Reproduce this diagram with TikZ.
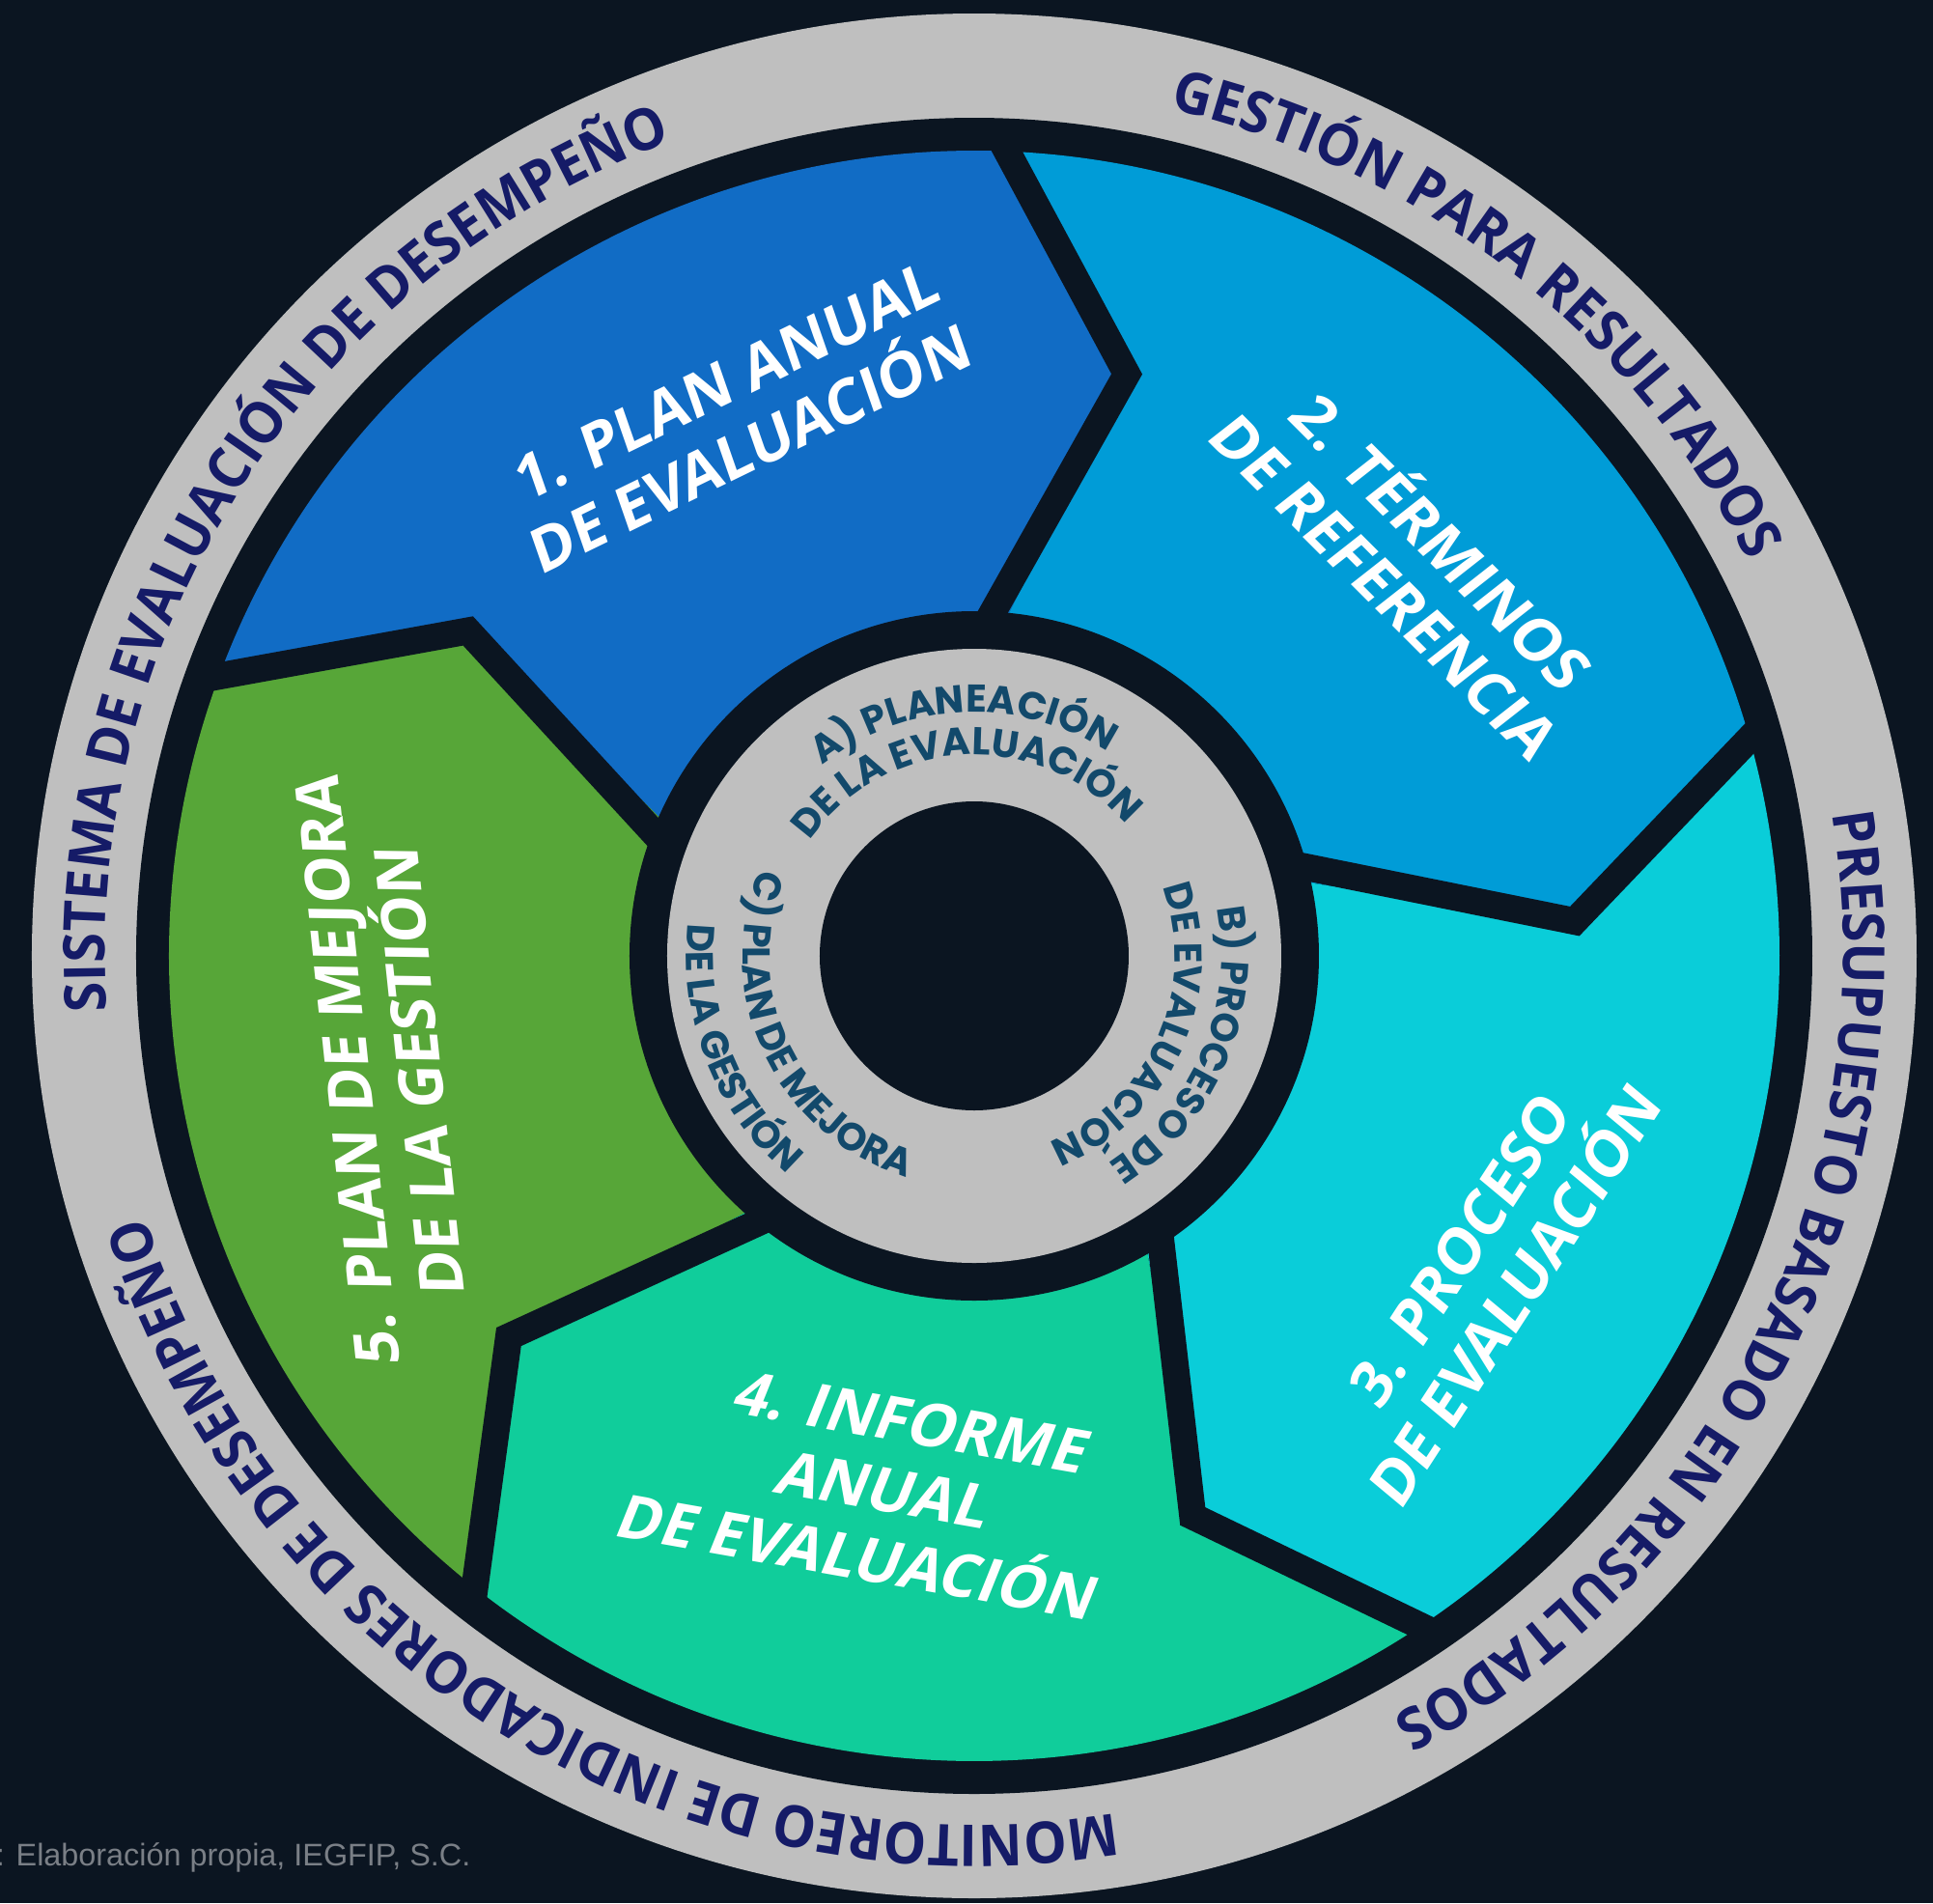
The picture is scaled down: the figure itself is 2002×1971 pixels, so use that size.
\documentclass[tikz,border=0pt]{standalone}
\usepackage{fontspec}
\usepackage{xcolor}
\usepackage{tikz}
\usetikzlibrary{decorations.text}
\setmainfont{Open Sans}
\newfontfamily\anillofont[FakeStretch=0.94]{Open Sans}
\newfontfamily\hubfont{Poppins}
\newfontfamily\notafont{Liberation Sans}
\definecolor{fondo}{HTML}{0B1521}
\definecolor{gris}{HTML}{BFBFBF}
\definecolor{marino}{HTML}{151B67}
\definecolor{azul}{HTML}{116CC5}
\definecolor{celeste}{HTML}{009CD7}
\definecolor{turquesa}{HTML}{0ACDD9}
\definecolor{esmeralda}{HTML}{10CD9B}
\definecolor{verde}{HTML}{57A638}
\definecolor{tinta}{HTML}{12496B}
\definecolor{nota}{HTML}{7A7F86}

\begin{document}
\begin{tikzpicture}[x=0.01cm,y=0.01cm,
		etapa/.style={text=white,align=center,inner sep=0pt,font=\fontsize{17.9}{21}\selectfont\bfseries},
		anillo/.style={decorate,decoration={text along path,text align=center,text={|\anillofont\fontsize{17}{17}\selectfont\bfseries\color{marino}|#1}}},
		centro/.style={decorate,decoration={text along path,text align=center,text={|\hubfont\fontsize{11.4}{11.4}\selectfont\bfseries\color{tinta}|#1}}}]
	% Define the frame
	\useasboundingbox (-1009,-981) rectangle (993,990);
	\fill[fondo] (-1009,-981) rectangle (993,990);
	\fill[gris] (0,0) circle (976);
	\fill[fondo] (0,0) circle (868);
	% Create segments
	\foreach \a/\c in {160.3/azul,88.3/celeste,16.3/turquesa,-55.7/esmeralda,-127.7/verde}
		\fill[\c] (\a:834) arc[start angle=\a,end angle=\a-72,radius=834] -- (\a-85:623) -- (\a-72:300) -- (\a:300) -- (\a-13:623) -- cycle;
	% Separators
	\foreach \b in {88.3,16.3,-55.7,-127.7,-199.7}
		\draw[fondo,line width=2.8mm,line join=miter] (\b:850) -- (\b-13:623) -- (\b:340);
	% Hub
	\fill[fondo] (0,0) circle (357);
	\fill[gris] (0,0) circle (318);
	\fill[fondo] (0,0) circle (160);
	% Add labels to the segments
	\node[etapa,rotate=26,xslant=0.12] (plan) at (-244,560) {1. PLAN ANUAL\\DE EVALUACIÓN};
	\node[etapa,rotate=-45,xslant=0.12] (terminos) at (459,409) {2. TÉRMINOS\\DE REFERENCIA};
	\node[etapa,rotate=57,xslant=0.12] (proceso) at (532,-328) {3. PROCESO\\DE EVALUACIÓN};
	\node[etapa,rotate=-10,xslant=0.21] (informe) at (-92,-553) {4. INFORME\\ANUAL\\DE EVALUACIÓN};
	\node[etapa,rotate=96,xslant=0.12] (mejora) at (-612,-118) {5. PLAN DE MEJORA\\DE LA GESTIÓN};
	% Outer ring
	\path[anillo=SISTEMA DE EVALUACIÓN DE DESEMPEÑO] (207:900) arc[start angle=207,end angle=87,radius=900];
	\path[anillo=GESTIÓN PARA RESULTADOS] (112:900) arc[start angle=112,end angle=-8,radius=900];
	\path[anillo=PRESUPUESTO BASADO EN RESULTADOS] (34.1:900) arc[start angle=34.1,end angle=-85.9,radius=900];
	\path[anillo=MONITOREO DE INDICADORES DE DESEMPEÑO] (-61.6:900) arc[start angle=-61.6,end angle=-181.6,radius=900];
	% Hub ring
	\path[centro=A) PLANEACIÓN] (162.7:252) arc[start angle=162.7,end angle=22.7,radius=252];
	\path[centro=DE LA EVALUACIÓN] (163:208) arc[start angle=163,end angle=23,radius=208];
	\path[centro=B) PROCESO DE] (47:256) arc[start angle=47,end angle=-93,radius=256];
	\path[centro=DE EVALUACIÓN] (46:208) arc[start angle=46,end angle=-94,radius=208];
	\path[centro=C) PLAN DE MEJORA] (135.5:240) arc[start angle=135.5,end angle=275.5,radius=240];
	\path[centro=DE LA GESTIÓN] (131.5:298) arc[start angle=131.5,end angle=271.5,radius=298];
	% Source
	\node[anchor=base east,text=nota,inner sep=0pt,font=\notafont\fontsize{9.2}{11}\selectfont] (fuente) at (-521,-942) {: Elaboración propia, IEGFIP, S.C.};
\end{tikzpicture}
\end{document}
